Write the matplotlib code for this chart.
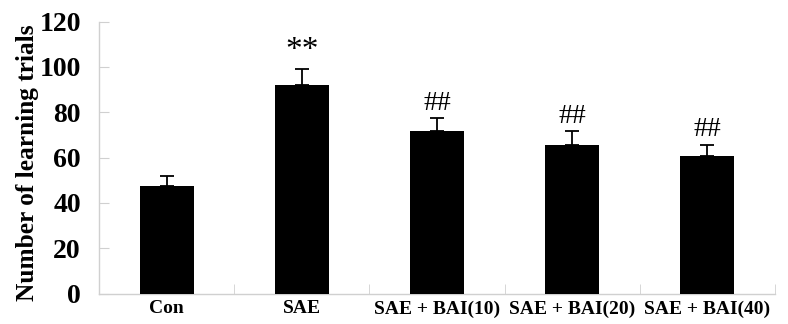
import matplotlib
matplotlib.use("Agg")
import matplotlib.pyplot as plt
import numpy as np

categories = ["Con", "SAE", "SAE + BAI(10)", "SAE + BAI(20)", "SAE + BAI(40)"]
values = [47.3, 92.2, 71.7, 65.7, 60.6]
errors = [4.4, 7.0, 5.7, 5.9, 5.1]
marks = ["", "**", "##", "##", "##"]
mark_sizes = [0, 24, 20, 20, 20]
yticks = [0, 20, 40, 60, 80, 100, 120]

plt.rcParams['font.family'] = ['Liberation Serif', 'DejaVu Serif']

fig = plt.figure(figsize=(7.88, 3.24), dpi=100)
ax = fig.add_axes([0.1256, 0.094, 0.9835 - 0.1256, 0.9336 - 0.094])

x = np.arange(len(categories))
ax.bar(x, values, width=0.4, color='black', zorder=3)
ax.errorbar(x, values, yerr=[np.zeros(len(errors)), errors], fmt='none',
            ecolor='black', elinewidth=1.3, capsize=5, capthick=1.3, zorder=4)

for xi, v, e, m, fs in zip(x, values, errors, marks, mark_sizes):
    if m:
        ax.text(xi, v + e + 1.0, m, ha='center', va='bottom', fontsize=fs)

ax.set_xlim(-0.5, len(categories) - 0.5)
ax.set_ylim(0, 120)
ax.set_yticks(yticks)
ax.set_yticklabels([str(t) for t in yticks], fontsize=20, fontweight='bold')
ax.set_xticks(x)
ax.set_xticklabels(categories, fontsize=14, fontweight='bold')
ax.tick_params(axis='x', length=0, pad=5)
ax.tick_params(axis='y', direction='in', length=7, color='#d0d0d0', pad=13)
ax.set_xticks(np.arange(-0.5, len(categories) + 0.5, 1), minor=True)
ax.tick_params(axis='x', which='minor', direction='in', length=7, color='#d0d0d0')

for s in ['top', 'right']:
    ax.spines[s].set_visible(False)
for s in ['left', 'bottom']:
    ax.spines[s].set_color('#d0d0d0')
    ax.spines[s].set_linewidth(1.0)

ax.set_ylabel("Number of learning trials", fontsize=18.3, fontweight='bold')
ax.yaxis.set_label_coords(-0.088, 0.48)

fig.savefig("out.png", dpi=100)
